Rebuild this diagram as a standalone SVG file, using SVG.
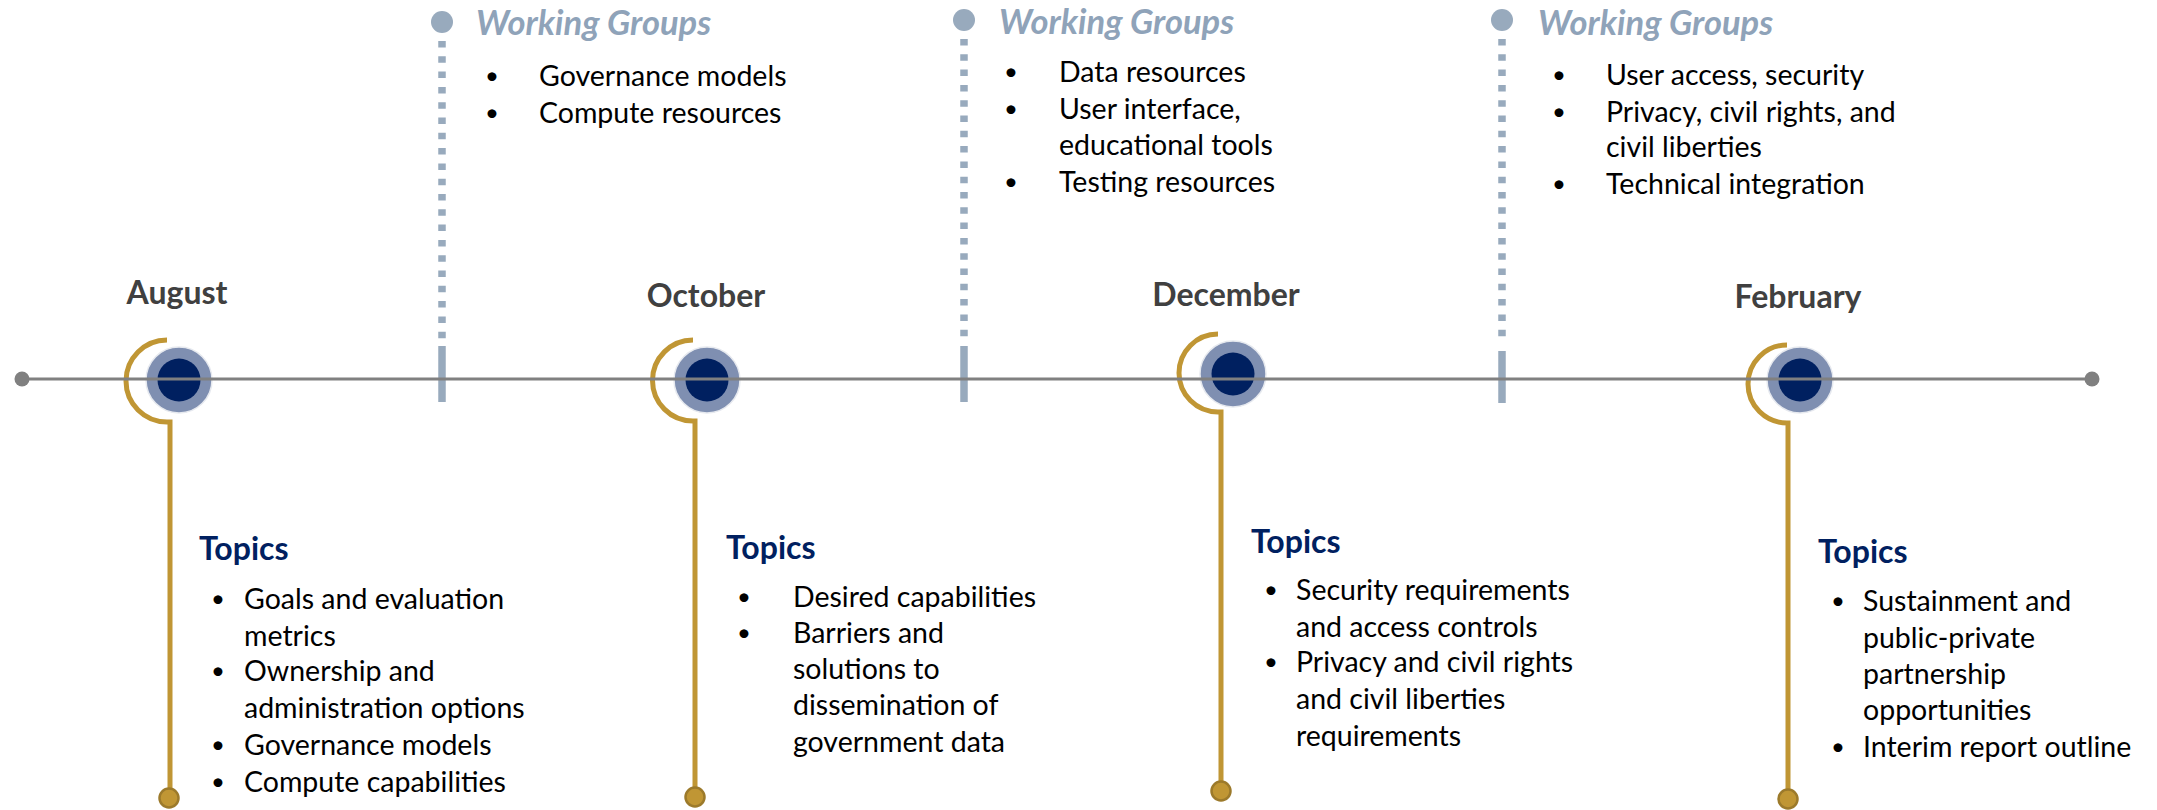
<svg xmlns="http://www.w3.org/2000/svg" width="2157" height="810" viewBox="0 0 2157 810">
<style>
text{font-family:Lato,"Open Sans","Liberation Sans",sans-serif}
.month{font-size:32px;font-weight:700;fill:#404040;text-anchor:middle}
.topics{font-size:32px;font-weight:700;fill:#002060}
.wg{font-size:34.5px;font-weight:700;font-style:italic;fill:#8FA3B9}
.b{font-size:28.5px;fill:#000}
.bu{font-size:24px;fill:#000}
.gold{fill:none;stroke:#C09634;stroke-width:5}
.gdot{fill:#C09634;stroke:#9C7A2B;stroke-width:2.5}
.outer{fill:#7F8FB1;stroke:#E6E9EF;stroke-width:1.5}
.inner{fill:#002060}
.wgdash{stroke:#98AABD;stroke-width:7.5;stroke-dasharray:6.5 8.8;fill:none}
.wgsolid{stroke:#98AABD;stroke-width:7.5;fill:none}
.wgdot{fill:#98AABD}
.tl{stroke:#808080;stroke-width:3}
.tldot{fill:#808080}
</style>

<g id="august">
<text class="month" x="177" y="304">August</text>
<path class="gold" d="M167 340 A41 41 0 0 0 167 422 L170 422 L170 796"/>
<circle class="gdot" cx="169" cy="798" r="9.5"/>
<circle class="outer" cx="179" cy="380" r="33"/>
<circle class="inner" cx="179" cy="380" r="21.5"/>
<text class="topics" x="199" y="560">Topics</text>
<text class="bu" x="211" y="607">•</text>
<text class="b" x="244" y="609">Goals and evaluation</text>
<text class="b" x="244" y="646">metrics</text>
<text class="bu" x="211" y="679">•</text>
<text class="b" x="244" y="681">Ownership and</text>
<text class="b" x="244" y="718">administration options</text>
<text class="bu" x="211" y="753">•</text>
<text class="b" x="244" y="755">Governance models</text>
<text class="bu" x="211" y="790">•</text>
<text class="b" x="244" y="792">Compute capabilities</text>
</g>

<g id="october">
<text class="month" x="706" y="307">October</text>
<path class="gold" d="M693 340 A40 40 0 0 0 693 421 L695 421 L695 795"/>
<circle class="gdot" cx="695" cy="797" r="9.5"/>
<circle class="outer" cx="707" cy="380" r="33"/>
<circle class="inner" cx="707" cy="380" r="21.5"/>
<text class="topics" x="726" y="559">Topics</text>
<text class="bu" x="737" y="605">•</text>
<text class="b" x="793" y="607">Desired capabilities</text>
<text class="bu" x="737" y="641">•</text>
<text class="b" x="793" y="643">Barriers and</text>
<text class="b" x="793" y="679">solutions to</text>
<text class="b" x="793" y="715">dissemination of</text>
<text class="b" x="793" y="752">government data</text>
</g>

<g id="december">
<text class="month" x="1226" y="306">December</text>
<path class="gold" d="M1218 334 A39 39 0 0 0 1218 412 L1221 412 L1221 789"/>
<circle class="gdot" cx="1221" cy="791" r="9.5"/>
<circle class="outer" cx="1233" cy="374" r="33"/>
<circle class="inner" cx="1233" cy="374" r="21.5"/>
<text class="topics" x="1251" y="553">Topics</text>
<text class="bu" x="1264" y="598">•</text>
<text class="b" x="1296" y="600">Security requirements</text>
<text class="b" x="1296" y="637">and access controls</text>
<text class="bu" x="1264" y="670">•</text>
<text class="b" x="1296" y="672">Privacy and civil rights</text>
<text class="b" x="1296" y="709">and civil liberties</text>
<text class="b" x="1296" y="746">requirements</text>
</g>

<g id="february">
<text class="month" x="1798" y="308">February</text>
<path class="gold" d="M1787 345 A39 39 0 0 0 1787 423 L1788 423 L1788 797"/>
<circle class="gdot" cx="1788" cy="799" r="9.5"/>
<circle class="outer" cx="1800" cy="380" r="33"/>
<circle class="inner" cx="1800" cy="380" r="21.5"/>
<text class="topics" x="1818" y="563">Topics</text>
<text class="bu" x="1831" y="609">•</text>
<text class="b" x="1863" y="611">Sustainment and</text>
<text class="b" x="1863" y="648">public-private</text>
<text class="b" x="1863" y="684">partnership</text>
<text class="b" x="1863" y="720">opportunities</text>
<text class="bu" x="1831" y="755">•</text>
<text class="b" x="1863" y="757">Interim report outline</text>
</g>

<g id="wg1">
<circle class="wgdot" cx="442" cy="22" r="11"/>
<line class="wgdash" x1="442" y1="41" x2="442" y2="340"/>
<line class="wgsolid" x1="442" y1="346" x2="442" y2="402"/>
<text class="wg" x="476" y="35">Working Groups</text>
<text class="bu" x="485" y="84">•</text>
<text class="b" x="539" y="86">Governance models</text>
<text class="bu" x="485" y="121">•</text>
<text class="b" x="539" y="123">Compute resources</text>
</g>

<g id="wg2">
<circle class="wgdot" cx="964" cy="20" r="11"/>
<line class="wgdash" x1="964" y1="39" x2="964" y2="340"/>
<line class="wgsolid" x1="964" y1="346" x2="964" y2="402"/>
<text class="wg" x="999" y="34">Working Groups</text>
<text class="bu" x="1004" y="80">•</text>
<text class="b" x="1059" y="82">Data resources</text>
<text class="bu" x="1004" y="117">•</text>
<text class="b" x="1059" y="119">User interface,</text>
<text class="b" x="1059" y="155">educational tools</text>
<text class="bu" x="1004" y="190">•</text>
<text class="b" x="1059" y="192">Testing resources</text>
</g>

<g id="wg3">
<circle class="wgdot" cx="1502" cy="20" r="11"/>
<line class="wgdash" x1="1502" y1="39" x2="1502" y2="345"/>
<line class="wgsolid" x1="1502" y1="351" x2="1502" y2="403"/>
<text class="wg" x="1538" y="35">Working Groups</text>
<text class="bu" x="1552" y="83">•</text>
<text class="b" x="1606" y="85">User access, security</text>
<text class="bu" x="1552" y="120">•</text>
<text class="b" x="1606" y="122">Privacy, civil rights, and</text>
<text class="b" x="1606" y="157">civil liberties</text>
<text class="bu" x="1552" y="192">•</text>
<text class="b" x="1606" y="194">Technical integration</text>
</g>

<g id="connectors">
<line class="tl" x1="22" y1="379" x2="2092" y2="379"/>
<circle class="tldot" cx="22" cy="379" r="7.5"/>
<circle class="tldot" cx="2092" cy="379" r="7.5"/>
</g>
</svg>
